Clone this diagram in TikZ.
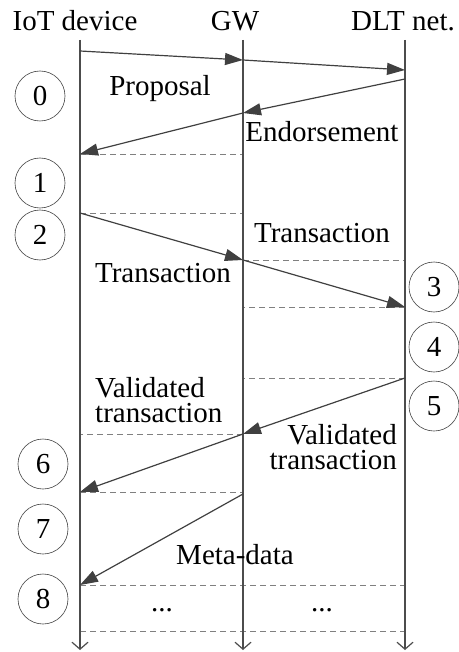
\documentclass[tikz,border=0pt]{standalone}
\usepackage{fontspec}
\setmainfont{Liberation Serif}
\usetikzlibrary{arrows.meta}

\begin{document}
\begin{tikzpicture}
  [x=1pt,y=-1pt,font=\fontsize{29}{25}\selectfont,
   every node/.style={inner sep=0pt},
   stepno/.style={circle,draw=black!75,line width=0.6pt,minimum size=50pt},
   life/.style={draw=black!70,line width=1.2pt,-{Straight Barb[length=7pt,width=16pt]}},
   msg/.style={draw=black!75,line width=1.2pt,-{Triangle[length=18pt,width=12pt]}},
   sep/.style={draw=black!50,line width=0.8pt,dash pattern=on 6pt off 4pt}]
  \useasboundingbox (0,0) rectangle (458,652);

  \node[anchor=base] (iot) at (75,31) {IoT device};
  \node[anchor=base] (gw) at (235,31) {GW};
  \node[anchor=base] (dlt) at (403,31) {DLT net.};

  \coordinate (iott) at (80,40);  \coordinate (iotb) at (80,650);
  \coordinate (gwt) at (243,40);  \coordinate (gwb) at (243,650);
  \coordinate (dltt) at (405,40); \coordinate (dltb) at (405,650);

  \coordinate (a1) at (80,51);
  \coordinate (a2) at (243,60);
  \coordinate (a3) at (405,70);
  \coordinate (a4) at (405,79);
  \coordinate (a5) at (243,113);
  \coordinate (a6) at (80,154);
  \coordinate (a7) at (80,213);
  \coordinate (a8) at (243,260);
  \coordinate (a9) at (405,307);
  \coordinate (a10) at (405,378);
  \coordinate (a11) at (243,434);
  \coordinate (a12) at (80,492);
  \coordinate (a13) at (243,494);
  \coordinate (a14) at (80,585);
  \coordinate (a15) at (80,631);

  % separators
  \foreach \from/\to in {a6/gwt,a7/gwt,a8/dltt,a9/gwt,a10/gwt,a11/iott,a12/gwt,a14/dltt,a15/dltt}
    \draw[sep] (\from) -- (\from -| \to);

  \foreach \from/\to in {iott/iotb,gwt/gwb,dltt/dltb}
    \draw[life] (\from) -- (\to);

  \foreach \from/\to in {a1/a2,a2/a3,a4/a5,a5/a6,a7/a8,a8/a9,a10/a11,a11/a12,a13/a14}
    \draw[msg] (\from) -- (\to);

  \node[anchor=base] (proposal) at (160,96) {Proposal};
  \node[anchor=base] (endorse) at (322,142) {Endorsement};
  \node[anchor=base] (tx1) at (322,242) {Transaction};
  \node[anchor=base] (tx2) at (163,282) {Transaction};
  \node[anchor=west,align=left] (valid1) at (95,400) {Validated\\transaction};
  \node[anchor=east,align=right] (valid2) at (397,447) {Validated\\transaction};
  \node[anchor=base] (meta) at (235,564) {Meta-data};
  \node[anchor=base] (dots1) at (162,611) {...};
  \node[anchor=base] (dots2) at (322,611) {...};

  \foreach \n/\x/\y in {0/40/96,1/40/183,2/40/235,3/434/287,4/434/347,5/434/406,6/43/464,7/43/529,8/43/599}
    \node[stepno] (s\n) at (\x,\y) {\n};

\end{tikzpicture}
\end{document}
